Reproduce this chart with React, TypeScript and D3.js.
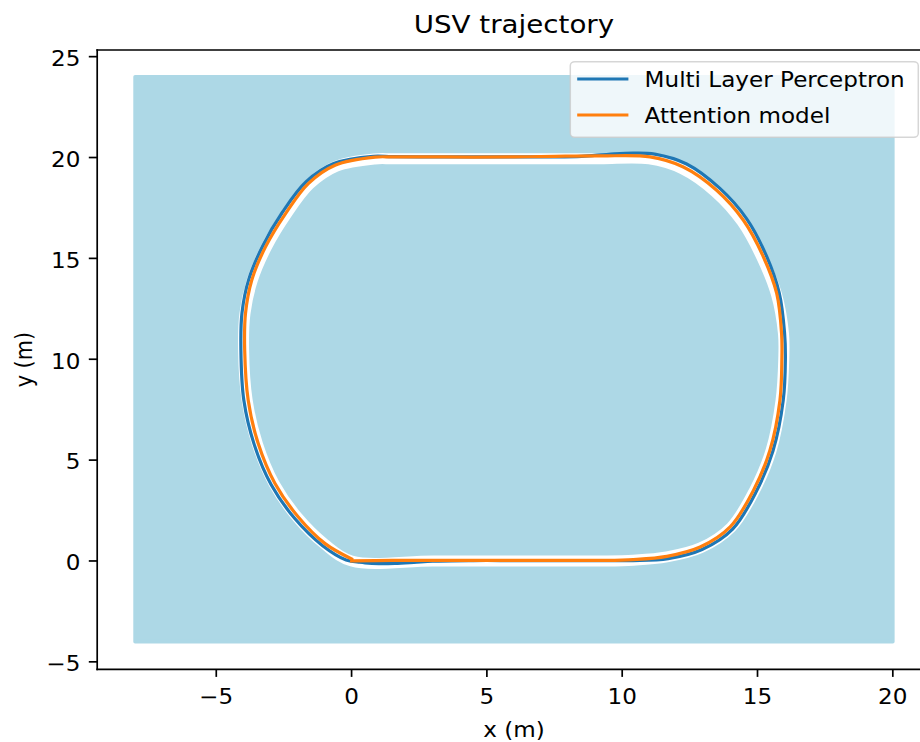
import React from 'react';
import * as d3 from 'd3';

// ---- data ----
const xTicks = [-5, 0, 5, 10, 15, 20];
const yTicks = [-5, 0, 5, 10, 15, 20, 25];

const waterX = [-8, 20];
const waterY = [-4, 24];

// reference path (white)
const refX = [0, 3, 6, 9.2, 10.41, 11.65, 12.9, 14.02, 14.88, 15.5, 15.87, 15.97, 15.96, 15.7, 15.18, 14.43, 13.44, 12.22, 11.0, 9.2, 7.5, 6, 4.5, 3, 1.5, 0.85, -0.56, -1.56, -2.41, -3.15, -3.67, -3.94, -3.99, -3.86, -3.48, -2.86, -2.0, -1.0];
const refY = [0, 0, 0, 0, 0.04, 0.2, 0.65, 1.66, 3.47, 5.47, 7.96, 10.0, 11.27, 13.22, 15.0, 16.82, 18.3, 19.44, 19.93, 19.94, 19.94, 19.94, 19.94, 19.94, 19.94, 19.93, 19.57, 18.67, 17.19, 15.55, 13.91, 12.27, 10.45, 7.97, 5.8, 3.82, 2.16, 0.84];

// Multi Layer Perceptron
const mlpX = [0, 0.5, 1, 1.6, 2.3, 3, 4.5, 6, 7.5, 9.2, 10.4, 11.7, 12.95, 14.08, 14.95, 15.57, 15.95, 16.03, 16.0, 15.8, 15.33, 14.6, 13.6, 12.38, 11.2, 10.4, 9.5, 8.5, 7.5, 6, 4.5, 3, 1.5, 0.8, -0.66, -1.68, -2.55, -3.28, -3.8, -4.05, -4.09, -3.98, -3.6, -2.97, -2.09, -1.07, -0.2, 0.2];
const mlpY = [0, -0.09, -0.13, -0.12, -0.07, -0.01, 0.02, 0.02, 0.02, 0.02, 0.02, 0.12, 0.57, 1.58, 3.43, 5.45, 7.96, 10.0, 11.3, 13.3, 15.12, 16.96, 18.48, 19.68, 20.17, 20.22, 20.16, 20.06, 20.03, 20.03, 20.03, 20.03, 20.04, 20.06, 19.7, 18.8, 17.3, 15.63, 13.96, 12.3, 10.45, 7.95, 5.78, 3.78, 2.09, 0.76, 0.05, -0.05];

// Attention model
const attX = [0, 1.5, 3, 4.5, 6, 7.5, 9.2, 10.41, 11.65, 12.88, 13.99, 14.85, 15.46, 15.83, 15.9, 15.89, 15.71, 15.22, 14.48, 13.49, 12.26, 11.03, 9.2, 7.5, 6, 4.5, 3, 1.5, 0.87, -0.61, -1.6, -2.44, -3.18, -3.69, -3.92, -3.95, -3.82, -3.45, -2.83, -1.97, -0.98, 0];
const attY = [0, 0.03, 0.03, 0.03, 0.03, 0.03, 0.03, 0.07, 0.23, 0.69, 1.69, 3.5, 5.49, 7.97, 10.0, 11.27, 13.26, 15.07, 16.89, 18.38, 19.53, 20.03, 20.08, 20.06, 20.03, 20.02, 20.03, 20.03, 20.02, 19.62, 18.71, 17.22, 15.57, 13.92, 12.27, 10.45, 7.97, 5.82, 3.84, 2.18, 0.86, 0.1];

const seriesLabels = ['Multi Layer Perceptron', 'Attention model'];
const seriesColors = ['#1f77b4', '#ff7f0e'];

const titleText = 'USV trajectory';
const xLabel = 'x (m)';
const yLabel = 'y (m)';

// ---- component ----
export default function App() {
  const W = 920;
  const H = 742;
  const axL = 97.2, axR = 930.7, axT = 50, axB = 669.3;
  const xs = d3.scaleLinear().domain([-9.4, 21.4]).range([axL, axR]);
  const ys = d3.scaleLinear().domain([-5.37, 25.33]).range([axB, axT]);

  const zip = (a: number[], b: number[]) => a.map((v, i) => [v, b[i]] as [number, number]);
  const line = d3
    .line<[number, number]>()
    .x((d) => xs(d[0]))
    .y((d) => ys(d[1]))
    .curve(d3.curveCatmullRom.alpha(0.5));
  const lineClosed = d3
    .line<[number, number]>()
    .x((d) => xs(d[0]))
    .y((d) => ys(d[1]))
    .curve(d3.curveCatmullRomClosed.alpha(0.5));

  const font = "'DejaVu Sans', 'Liberation Sans', sans-serif";
  const SX = 1.11;
  const fs = 20.8;
  const fmt = (t: number) => (t < 0 ? '\u2212' + Math.abs(t) : String(t));

  const T = (x: number, y: number, extra = '') => `translate(${x},${y}) scale(${SX},1)${extra}`;

  const tickLen = 7.6;
  const spineW = 1.7;

  // legend layout
  const legR = axR - 12.4;
  const legW = 348;
  const legL = legR - legW;
  const legT = axT + 11.7;
  const legH = 75.6;
  const rowY = [legT + 17.3, legT + 53.3];

  return (
    <svg
      width={W}
      height={H}
      viewBox={`0 0 ${W} ${H}`}
      style={{ position: 'absolute', left: 0, top: 0, display: 'block', background: '#ffffff' }}
    >
      <rect x={0} y={0} width={W} height={H} fill="#ffffff" />

      {/* water area */}
      <rect
        x={xs(waterX[0])}
        y={ys(waterY[1])}
        width={xs(waterX[1]) - xs(waterX[0])}
        height={ys(waterY[0]) - ys(waterY[1])}
        fill="#add8e6"
        stroke="#add8e6"
        strokeWidth={3.6}
        strokeLinejoin="round"
      />

      {/* reference path */}
      <path d={lineClosed(zip(refX, refY)) || ''} fill="none" stroke="#ffffff" strokeWidth={11} strokeLinejoin="round" />

      {/* MLP */}
      <path
        d={line(zip(mlpX, mlpY)) || ''}
        fill="none"
        stroke={seriesColors[0]}
        strokeWidth={3.2}
        strokeLinecap="square"
        strokeLinejoin="round"
      />
      {/* Attention */}
      <path
        d={line(zip(attX, attY)) || ''}
        fill="none"
        stroke={seriesColors[1]}
        strokeWidth={3.2}
        strokeLinecap="square"
        strokeLinejoin="round"
      />

      {/* spines */}
      <line x1={axL} x2={axL} y1={axT} y2={axB} stroke="#000" strokeWidth={spineW} strokeLinecap="square" />
      <line x1={axL} x2={axR} y1={axB} y2={axB} stroke="#000" strokeWidth={spineW} strokeLinecap="square" />
      <line x1={axL} x2={axR} y1={axT} y2={axT} stroke="#000" strokeWidth={spineW} strokeLinecap="square" />
      <line x1={axR} x2={axR} y1={axT} y2={axB} stroke="#000" strokeWidth={spineW} strokeLinecap="square" />

      {/* x ticks */}
      {xTicks.map((t) => (
        <g key={'x' + t}>
          <line x1={xs(t)} x2={xs(t)} y1={axB} y2={axB + tickLen} stroke="#000" strokeWidth={spineW} />
          <text transform={T(xs(t), 703.5)} textAnchor="middle" fontFamily={font} fontSize={fs} fill="#000">
            {fmt(t)}
          </text>
        </g>
      ))}

      {/* y ticks */}
      {yTicks.map((t) => (
        <g key={'y' + t}>
          <line x1={axL - tickLen - 0.8} x2={axL} y1={ys(t)} y2={ys(t)} stroke="#000" strokeWidth={spineW} />
          <text transform={T(80.5, ys(t) + 9.3)} textAnchor="end" fontFamily={font} fontSize={fs} fill="#000">
            {fmt(t)}
          </text>
        </g>
      ))}

      {/* axis labels */}
      <text transform={T((axL + axR) / 2, 736.5)} textAnchor="middle" fontFamily={font} fontSize={fs} fill="#000">
        {xLabel}
      </text>
      <text
        transform={T(32, (axT + axB) / 2, ' rotate(-90)')}
        textAnchor="middle"
        fontFamily={font}
        fontSize={fs}
        fill="#000"
      >
        {yLabel}
      </text>

      {/* title */}
      <text transform={T((axL + axR) / 2, 33.3)} textAnchor="middle" fontFamily={font} fontSize={fs * 1.2} fill="#000">
        {titleText}
      </text>

      {/* legend */}
      <rect
        x={legL}
        y={legT}
        width={legW}
        height={legH}
        rx={4.5}
        ry={4}
        fill="#ffffff"
        fillOpacity={0.8}
        stroke="#cccccc"
        strokeOpacity={0.8}
        strokeWidth={1.5}
      />
      {seriesLabels.map((lab, i) => (
        <g key={lab}>
          <line
            x1={legL + 8.5}
            x2={legL + 56.5}
            y1={rowY[i]}
            y2={rowY[i]}
            stroke={seriesColors[i]}
            strokeWidth={3.2}
            strokeLinecap="square"
          />
          <text transform={T(legL + 74.3, rowY[i] + 8.3)} fontFamily={font} fontSize={fs} fill="#000">
            {lab}
          </text>
        </g>
      ))}
    </svg>
  );
}
